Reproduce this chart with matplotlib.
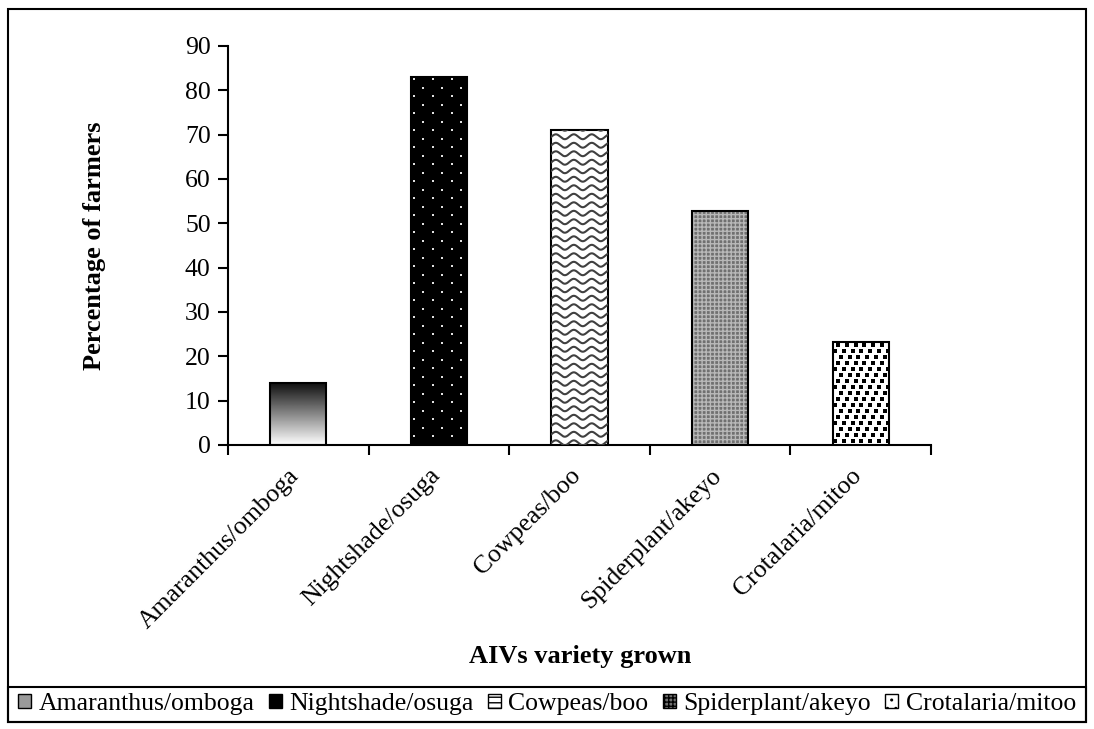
import matplotlib.pyplot as plt
import numpy as np
from matplotlib.patches import Patch, Rectangle

plt.rcParams['font.family'] = ['Liberation Serif', 'DejaVu Serif']
plt.rcParams['hatch.linewidth'] = 1.0

# AIV varieties and share of farmers growing each
varieties = ['Amaranthus/omboga', 'Nightshade/osuga', 'Cowpeas/boo',
             'Spiderplant/akeyo', 'Crotalaria/mitoo']
percent = [14, 83, 71, 52.7, 23.2]

fig = plt.figure(figsize=(10.94, 7.29), dpi=100)
ax = fig.add_axes([0.2084, 0.3896, 0.6426, 0.5473])

x = np.arange(len(varieties))
width = 0.4
bars = ax.bar(x, percent, width, color='white', edgecolor='black',
              linewidth=1.5, zorder=3)
px, py = 141.0, 4.433  # pixels per data unit

# Amaranthus: vertical gradient, dark at top
b = bars[0]
grad = np.linspace(0.05, 1.0, 256).reshape(-1, 1)
im = ax.imshow(grad, cmap='gray', vmin=0, vmax=1, aspect='auto',
               extent=[b.get_x(), b.get_x() + width, 0, percent[0]],
               zorder=2, interpolation='bilinear')
im.set_clip_path(b)
b.set_facecolor('none')

# Nightshade: black with white dots
b = bars[1]
b.set_facecolor('black')
gx, gy = [], []
row = 0
yy = 2.0
while yy < percent[1]:
    off = 0 if row % 2 == 0 else 9.5 / px
    xx = b.get_x() + 3 / px + off
    while xx < b.get_x() + width:
        gx.append(xx)
        gy.append(yy)
        xx += 19 / px
    yy += 8.5 / py
    row += 1
dots = ax.scatter(gx, gy, s=3.5, c='#e0e0e0', marker='s', linewidths=0, zorder=4)
dots.set_clip_path(b)

# Cowpeas: wavy lines
b = bars[2]
wx = np.linspace(b.get_x(), b.get_x() + width, 200)
yy = 0.5
while yy < percent[2] + 1:
    wy = yy + 0.55 * np.sin(2 * np.pi * (wx - b.get_x()) / (18 / px))
    ln, = ax.plot(wx, wy, color='#404040', lw=1.5, zorder=4)
    ln.set_clip_path(b)
    yy += 8.5 / py

# Spiderplant: fine gray checker
b = bars[3]
ax.bar(x[3], percent[3], width, color='#707070', edgecolor='#b8b8b8',
       hatch='++++', linewidth=0, zorder=2)
b.set_facecolor('none')

# Crotalaria: black square speckles in diagonal rows
b = bars[4]
gx, gy = [], []
row = 0
yy = 1.0
while yy < percent[4]:
    off = (row % 3) * 3 / px
    xx = b.get_x() + 2 / px + off
    while xx < b.get_x() + width:
        gx.append(xx)
        gy.append(yy)
        xx += 9 / px
    yy += 6 / py
    row += 1
sq = ax.scatter(gx, gy, s=10, c='black', marker='s', linewidths=0, zorder=4)
sq.set_clip_path(b)

ax.set_xlim(-0.5, len(varieties) - 0.5)
ax.set_ylim(0, 90)
ax.set_yticks(np.arange(0, 91, 10))
# label anchors sit a little left of the bar centres
ax.set_xticks(x - 10 / px)
ax.set_xticklabels(varieties, rotation=45, ha='right', va='top',
                   rotation_mode='anchor', fontsize=18.5)
ax.set_xticks(np.arange(-0.5, len(varieties)), minor=True)
ax.tick_params(axis='x', which='major', length=0, pad=14)
ax.tick_params(axis='x', which='minor', length=7, width=1.5, direction='out')
ax.tick_params(axis='y', length=7, width=1.5, direction='out', labelsize=18.5, pad=5.5)
for s in ['top', 'right']:
    ax.spines[s].set_visible(False)
for s in ['left', 'bottom']:
    ax.spines[s].set_linewidth(1.5)

ax.set_ylabel('Percentage of farmers', fontsize=19, fontweight='bold', va='center')
ax.yaxis.set_label_coords(-0.19, 0.5)
fig.text(580 / 1094, 1 - 657 / 729, 'AIVs variety grown', ha='center', va='center',
         fontsize=19, fontweight='bold')

# outer frame around the chart
fig.patches.append(Rectangle((8 / 1094, 7 / 729), 1078 / 1094, 713 / 729,
                             transform=fig.transFigure, fill=False,
                             edgecolor='black', linewidth=1.5))

handles = [
    Patch(facecolor='#9a9a9a', edgecolor='black', label=varieties[0]),
    Patch(facecolor='black', edgecolor='black', label=varieties[1]),
    Patch(facecolor='white', edgecolor='black', hatch='---', label=varieties[2]),
    Patch(facecolor='#707070', edgecolor='black', hatch='++++', label=varieties[3]),
    Patch(facecolor='white', edgecolor='black', hatch='..', label=varieties[4]),
]
leg = fig.legend(handles=handles, loc='center', ncol=5,
                 bbox_to_anchor=(547 / 1094, 1 - 704 / 729),
                 fontsize=18.5, frameon=False,
                 handlelength=0.5, handleheight=0.5, handletextpad=0.3,
                 columnspacing=0.55, borderaxespad=0, borderpad=0.2)
# legend box spanning the full width
fig.patches.append(Rectangle((8 / 1094, 7 / 729), 1078 / 1094, 35 / 729,
                             transform=fig.transFigure, fill=False,
                             edgecolor='black', linewidth=1.5))

fig.savefig('out.png', dpi=100)
